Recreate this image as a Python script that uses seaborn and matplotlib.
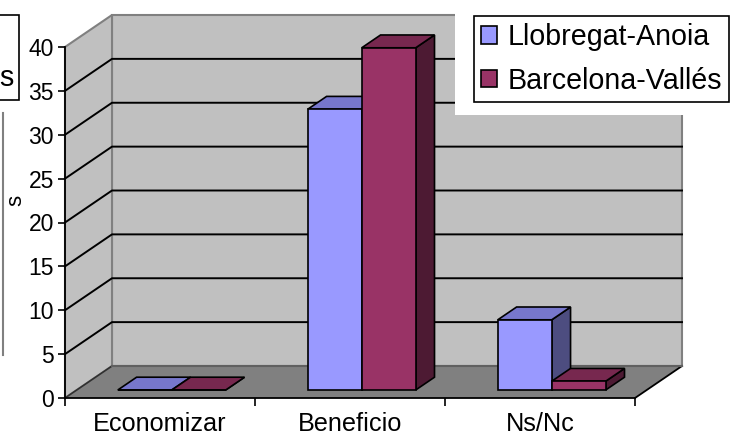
import matplotlib
matplotlib.use("Agg")
import matplotlib.pyplot as plt
import seaborn as sns
import pandas as pd
from matplotlib.patches import Polygon, Rectangle, Patch
from matplotlib.lines import Line2D
from matplotlib.colors import to_rgba

# ---------------- data ----------------
categories = ["Economizar", "Beneficio", "Ns/Nc"]
series_names = ["Llobregat-Anoia", "Barcelona-Vallés"]
llobregat_anoia = [0, 32, 8]
barcelona_valles = [0, 39, 1]
y_ticks = [0, 5, 10, 15, 20, 25, 30, 35, 40]

front_colors = ["#9999FF", "#993366"]
top_colors = ["#7777CC", "#77284F"]
side_colors = ["#4D4D80", "#4D1A33"]

df = pd.DataFrame({
    "Categoria": categories * 2,
    "Serie": [series_names[0]] * 3 + [series_names[1]] * 3,
    "Valor": llobregat_anoia + barcelona_valles,
})

plt.rcParams['font.family'] = ['Liberation Sans', 'DejaVu Sans']

W, H = 732, 437
fig = plt.figure(figsize=(W / 100, H / 100), dpi=100)
fx = lambda px: px / W
fy = lambda py: 1 - py / H

X0, X1, Y0, Y1 = 65, 635, 398, 47
ax = fig.add_axes([fx(X0), fy(Y0), (X1 - X0) / W, (Y0 - Y1) / H])
ax.set_facecolor("none")

sns.barplot(data=df, x="Categoria", y="Valor", hue="Serie",
            hue_order=series_names, order=categories,
            palette=front_colors, saturation=1, width=0.568, gap=0,
            edgecolor="black", linewidth=1.2, legend=False, ax=ax)

ax.set_xlim(-0.5, 2.5)
ax.set_ylim(0, 40)

# depth vector in data units
DX = 47 / ((X1 - X0) / 3)
DY = 32 / ((Y0 - Y1) / 40)

wall_c = "#C0C0C0"
edge_c = "#808080"
# back wall
ax.add_patch(Rectangle((-0.5 + DX, DY), 3, 40, fc=wall_c, ec=edge_c, lw=1.5,
                       clip_on=False, zorder=1))
# left wall
ax.add_patch(Polygon([(-0.5, 0), (-0.5 + DX, DY), (-0.5 + DX, 40 + DY), (-0.5, 40)],
                     closed=True, fc=wall_c, ec=edge_c, lw=1.5, clip_on=False, zorder=1))
# floor
ax.add_patch(Polygon([(-0.5, 0), (2.5, 0), (2.5 + DX, DY), (-0.5 + DX, DY)],
                     closed=True, fc="#808080", ec="none", clip_on=False, zorder=1.2))
ax.plot([2.5, 2.5 + DX], [0, DY], color="black", lw=1.3, clip_on=False, zorder=1.3)
ax.plot([-0.5, -0.5 + DX], [0, DY], color="#303030", lw=1.2, clip_on=False, zorder=1.3)
ax.plot([-0.5 + DX, 2.5 + DX], [DY, DY], color="#606060", lw=1.5, clip_on=False, zorder=1.3)

# gridlines
for v in y_ticks[1:-1]:
    ax.plot([-0.5, -0.5 + DX, 2.5 + DX], [v, v + DY, v + DY], color="black",
            lw=1.4, clip_on=False, zorder=2)

# 3D bars from seaborn rectangles
F0, F1 = 0.25, 0.65
front_rgb = [to_rgba(c)[:3] for c in front_colors]
rects = [p for p in ax.patches if isinstance(p, Rectangle)
         and tuple(p.get_facecolor()[:3]) in front_rgb and p.get_width() < 1]
rects.sort(key=lambda p: p.get_x())
for i, p in enumerate(rects):
    k = front_rgb.index(tuple(p.get_facecolor()[:3]))
    x, w, h = p.get_x(), p.get_width(), p.get_height()
    bx, by = x + F0 * DX, F0 * DY
    ddx, ddy = (F1 - F0) * DX, (F1 - F0) * DY
    p.set_xy((bx, by))
    p.set_zorder(10 + 3 * i + 2)
    p.set_clip_on(False)
    side = Polygon([(bx + w, by), (bx + w + ddx, by + ddy), (bx + w + ddx, by + h + ddy), (bx + w, by + h)],
                   closed=True, fc=side_colors[k], ec="black", lw=1.2, clip_on=False,
                   zorder=10 + 3 * i)
    top = Polygon([(bx, by + h), (bx + w, by + h), (bx + w + ddx, by + h + ddy), (bx + ddx, by + h + ddy)],
                  closed=True, fc=top_colors[k], ec="black", lw=1.2, clip_on=False,
                  zorder=10 + 3 * i + 1, joinstyle="miter")
    ax.add_patch(side)
    ax.add_patch(top)

# axes styling
for s in ["top", "right"]:
    ax.spines[s].set_visible(False)
for s in ["left", "bottom"]:
    ax.spines[s].set_color("black")
    ax.spines[s].set_linewidth(1.3)
ax.set_yticks(y_ticks)
ax.set_yticklabels([str(t) for t in y_ticks])
ax.tick_params(axis="y", direction="out", length=5, width=1.2, labelsize=16.5, pad=3, colors="black")
ax.set_xticks(range(len(categories)))
ax.set_xticklabels(categories)
ax.set_xticks([-0.5, 0.5, 1.5, 2.5], minor=True)
ax.tick_params(axis="x", which="major", length=0, labelsize=18.2, pad=10, colors="black")
ax.tick_params(axis="x", which="minor", direction="out", length=6, width=1.2, colors="black")
ax.set_xlabel("")
ax.set_ylabel("")

# white area behind the legend
fig.patches.append(Rectangle((fx(455), fy(115)), (W - 455) / W, 115 / H,
                             transform=fig.transFigure, fc="white", ec="none", zorder=1))
handles = [Patch(fc=c, ec="black", lw=1.2) for c in front_colors]
leg = fig.legend(handles, series_names, loc="upper left",
                 bbox_to_anchor=(fx(474), fy(16)), frameon=True, fancybox=False,
                 edgecolor="black", framealpha=1, fontsize=20.6, handlelength=0.55,
                 handleheight=0.55, handletextpad=0.38, borderpad=0.25,
                 labelspacing=0.55, borderaxespad=0)
leg.get_frame().set_linewidth(1.2)
leg.set_zorder(5)

# clipped boxes at left edge
fig.patches.append(Rectangle((fx(-10), fy(100)), 29 / W, 85 / H, transform=fig.transFigure,
                             fc="white", ec="black", lw=1.2, zorder=1))
fig.text(fx(6), fy(78), "s", fontsize=20.6, ha="center", va="center", zorder=2)
fig.lines.append(Line2D([fx(3), fx(3)], [fy(113), fy(355)], transform=fig.transFigure,
                        color="#808080", lw=1.5))
fig.text(fx(16), fy(200), "s", fontsize=16, rotation=90, ha="center", va="center")

fig.savefig("out.png", dpi=100)
